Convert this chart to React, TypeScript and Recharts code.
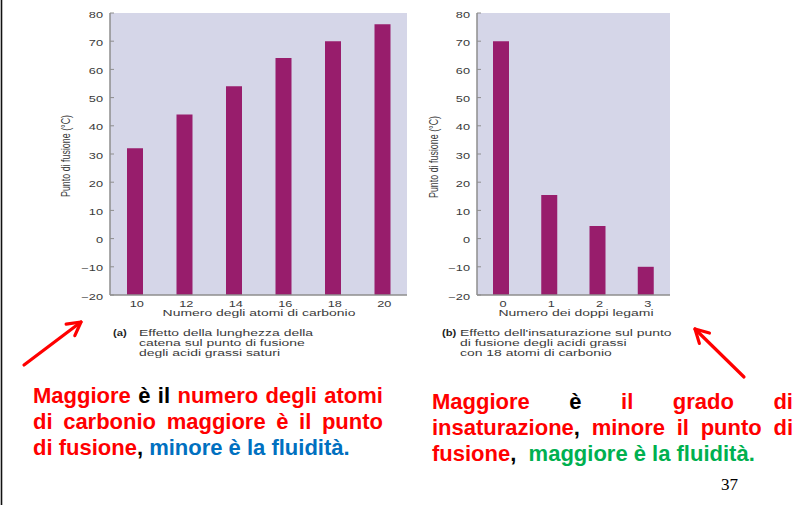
import React from 'react';
import { BarChart, Bar, XAxis, YAxis, CartesianGrid } from 'recharts';

// (a) saturated fatty acids: chain length vs melting point
const CARBON_ATOMS = ['10', '12', '14', '16', '18', '20'];
const MELT_SATURATED = [32, 44, 54, 64, 70, 76];

// (b) 18-carbon fatty acids: double bonds vs melting point
const DOUBLE_BONDS = ['0', '1', '2', '3'];
const MELT_C18 = [70, 15.5, 4.5, -10];

const Y_TICKS = [-20, -10, 0, 10, 20, 30, 40, 50, 60, 70, 80];
const Y_MIN = Y_TICKS[0];
const Y_MAX = Y_TICKS[Y_TICKS.length - 1];

const BAR_COLOR = '#981d6c';
const PLOT_BG = '#d5d6e8';
const AXIS_LINE = '#8e8e8e';
const AXIS_TEXT = '#3a3a3a';
const FONT = '"Liberation Sans", Arial, sans-serif';
const STRETCH = 1.5; // the scanned figure text is horizontally stretched

const RED = '#ff0000';
const BLUE = '#0070c0';
const GREEN = '#00b050';

// bars start at the bottom of the axis, not at zero
const dataA = CARBON_ATOMS.map((c, i) => ({ x: c, range: [Y_MIN, MELT_SATURATED[i]] }));
const dataB = DOUBLE_BONDS.map((c, i) => ({ x: c, range: [Y_MIN, MELT_C18[i]] }));

const YTick = (props: any) => {
  const { x, y, payload } = props;
  return (
    <text
      transform={`translate(${x},${y + 1.5}) scale(${STRETCH},1)`}
      textAnchor="end"
      dy="0.36em"
      fontSize={8.5}
      fontFamily={FONT}
      fill={AXIS_TEXT}
    >
      {String(payload.value).replace('-', '\u2212')}
    </text>
  );
};

const XTick = (props: any) => {
  const { x, y, payload } = props;
  return (
    <text
      transform={`translate(${x + 2},${y}) scale(${STRETCH},1)`}
      textAnchor="middle"
      dy="0.36em"
      fontSize={8.5}
      fontFamily={FONT}
      fill={AXIS_TEXT}
    >
      {payload.value}
    </text>
  );
};

const XTitle = ({ x, y, text }: { x: number; y: number; text: string }) => (
  <text
    transform={`translate(${x},${y}) scale(${STRETCH},1)`}
    textAnchor="middle"
    dy="0.36em"
    fontSize={9.3}
    fontFamily={FONT}
    fill={AXIS_TEXT}
  >
    {text}
  </text>
);

const YTitle = ({ x, y }: { x: number; y: number }) => (
  <text
    transform={`translate(${x},${y}) rotate(-90) scale(1,${STRETCH})`}
    textAnchor="middle"
    dy="0.36em"
    fontSize={8.9}
    fontFamily={FONT}
    fill={AXIS_TEXT}
  >
    Punto di fusione (°C)
  </text>
);

const Caption = ({ x, tx, tag, lines }: { x: number; tx: number; tag: string; lines: string[] }) => (
  <g fontFamily={FONT} fontSize={9.3} fill={AXIS_TEXT}>
    <text transform={`translate(${x},335.5) scale(1.2,1)`} fontWeight="bold" fill="#222">
      {tag}
    </text>
    {lines.map((l, i) => (
      <text key={i} transform={`translate(${tx},${335.5 + i * 10}) scale(${STRETCH},1)`}>
        {l}
      </text>
    ))}
  </g>
);

const Arrow = ({ x1, y1, x2, y2 }: { x1: number; y1: number; x2: number; y2: number }) => {
  const a = Math.atan2(y2 - y1, x2 - x1);
  const len = 15;
  const spread = 0.5;
  const p1 = [x2 - len * Math.cos(a - spread), y2 - len * Math.sin(a - spread)];
  const p2 = [x2 - len * Math.cos(a + spread), y2 - len * Math.sin(a + spread)];
  return (
    <g stroke={RED} strokeWidth={3.2} fill="none" strokeLinecap="round" strokeLinejoin="round">
      <line x1={x1} y1={y1} x2={x2} y2={y2} />
      <polyline points={`${p1[0]},${p1[1]} ${x2},${y2} ${p2[0]},${p2[1]}`} />
    </g>
  );
};

const lineStyle = (justify: boolean): React.CSSProperties => ({
  height: 26,
  lineHeight: '26px',
  whiteSpace: 'nowrap',
  textAlign: justify ? 'justify' : 'left',
  textAlignLast: justify ? 'justify' : 'left',
});

const R = ({ children }: { children: React.ReactNode }) => <span style={{ color: RED }}>{children}</span>;
const K = ({ children }: { children: React.ReactNode }) => <span style={{ color: '#000' }}>{children}</span>;

export default function App() {
  return (
    <div
      style={{
        position: 'absolute',
        left: 0,
        top: 0,
        width: 805,
        height: 505,
        background: '#fff',
        overflow: 'hidden',
        fontFamily: FONT,
      }}
    >
      {/* chart (a) */}
      <div style={{ position: 'absolute', left: 0, top: 0 }}>
        <BarChart width={407} height={330} data={dataA} margin={{ top: 13, right: 0, bottom: 5, left: 50 }}>
          <CartesianGrid fill={PLOT_BG} stroke="none" horizontal={false} vertical={false} />
          <XAxis
            dataKey="x"
            height={30}
            axisLine={{ stroke: AXIS_LINE, strokeWidth: 1.5 }}
            tickLine={false}
            tickMargin={3}
            tick={<XTick />}
            label={{ content: () => <XTitle x={259} y={313} text="Numero degli atomi di carbonio" /> }}
          />
          <YAxis
            width={60}
            domain={[Y_MIN, Y_MAX]}
            ticks={Y_TICKS}
            interval={0}
            axisLine={{ stroke: AXIS_LINE, strokeWidth: 1.5 }}
            tickLine={{ stroke: AXIS_LINE }}
            tickSize={-4}
            tickMargin={11}
            tick={<YTick />}
            label={{ content: () => <YTitle x={65} y={156} /> }}
          />
          <Bar dataKey="range" fill={BAR_COLOR} barSize={16} isAnimationActive={false} />
        </BarChart>
      </div>

      {/* chart (b) */}
      <div style={{ position: 'absolute', left: 410, top: 0 }}>
        <BarChart width={260} height={330} data={dataB} margin={{ top: 13, right: 0, bottom: 5, left: 7 }}>
          <CartesianGrid fill={PLOT_BG} stroke="none" horizontal={false} vertical={false} />
          <XAxis
            dataKey="x"
            height={30}
            axisLine={{ stroke: AXIS_LINE, strokeWidth: 1.5 }}
            tickLine={false}
            tickMargin={3}
            tick={<XTick />}
            label={{ content: () => <XTitle x={166} y={313} text="Numero dei doppi legami" /> }}
          />
          <YAxis
            width={60}
            domain={[Y_MIN, Y_MAX]}
            ticks={Y_TICKS}
            interval={0}
            axisLine={{ stroke: AXIS_LINE, strokeWidth: 1.5 }}
            tickLine={{ stroke: AXIS_LINE }}
            tickSize={-4}
            tickMargin={11}
            tick={<YTick />}
            label={{ content: () => <YTitle x={23} y={157} /> }}
          />
          <Bar dataKey="range" fill={BAR_COLOR} barSize={16} isAnimationActive={false} />
        </BarChart>
      </div>

      {/* captions, arrows, page border */}
      <svg width={805} height={505} style={{ position: 'absolute', left: 0, top: 0, pointerEvents: 'none' }}>
        <line x1={1.5} y1={0} x2={1.5} y2={505} stroke="#111" strokeWidth={1.6} />
        <Caption
          x={113}
          tx={139}
          tag="(a)"
          lines={['Effetto della lunghezza della', 'catena sul punto di fusione', 'degli acidi grassi saturi']}
        />
        <Caption
          x={442}
          tx={460}
          tag="(b)"
          lines={["Effetto dell'insaturazione sul punto", 'di fusione degli acidi grassi', 'con 18 atomi di carbonio']}
        />
        <Arrow x1={24} y1={365} x2={81} y2={322} />
        <Arrow x1={744} y1={377} x2={695} y2={329} />
        <text x={721} y={490} fontFamily='"Liberation Serif", "Times New Roman", serif' fontSize={17} fill="#000">
          37
        </text>
      </svg>

      {/* left statement */}
      <div style={{ position: 'absolute', left: 33, top: 383, width: 350, fontSize: 22, fontWeight: 'bold' }}>
        <div style={lineStyle(true)}>
          <R>Maggiore</R> <K>è il</K> <R>numero degli atomi</R>
        </div>
        <div style={lineStyle(true)}>
          <R>di carbonio maggiore è il punto</R>
        </div>
        <div style={lineStyle(false)}>
          <R>di fusione</R>
          <K>,</K> <span style={{ color: BLUE }}>minore è la fluidità.</span>
        </div>
      </div>

      {/* right statement */}
      <div style={{ position: 'absolute', left: 432, top: 389, width: 361, fontSize: 22, fontWeight: 'bold' }}>
        <div style={lineStyle(true)}>
          <R>Maggiore</R> <K>è</K> <R>il grado di</R>
        </div>
        <div style={lineStyle(true)}>
          <R>insaturazione</R>
          <K>,</K> <R>minore il punto di</R>
        </div>
        <div style={lineStyle(false)}>
          <R>fusione</R>
          <K>,</K>
          {'\u00a0 '}
          <span style={{ color: GREEN }}>maggiore è la fluidità.</span>
        </div>
      </div>
    </div>
  );
}
